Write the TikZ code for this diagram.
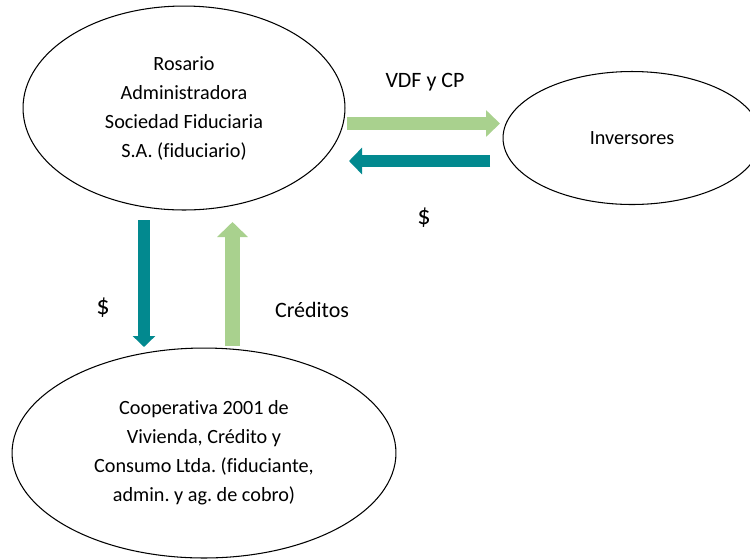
\documentclass[tikz,border=0pt]{standalone}
\usepackage{fontspec}
\setmainfont{Carlito}[Ligatures=NoCommon]
\usepackage{tikz}
\usetikzlibrary{shapes.geometric}
\usetikzlibrary{arrows.meta}
\usepackage{xcolor}
\frenchspacing
\definecolor{lightgreen}{HTML}{A9D18E}
\definecolor{tealblue}{HTML}{02898F}
\tikzstyle{entity}=[draw, semithick, ellipse, align=center, inner sep=0pt, font=\fontsize{11.5}{16.5}\selectfont]
\tikzstyle{flowlabel}=[font=\fontsize{12.5}{15}\selectfont]
\tikzstyle{cashlabel}=[font=\fontsize{15}{15}\selectfont]
\tikzstyle{greenflow}=[draw=lightgreen, line width=0.27cm]
\tikzstyle{tealflow}=[draw=tealblue, line width=0.24cm]

\begin{document}
\begin{tikzpicture}[x=0.02cm, y=-0.02cm]
	\useasboundingbox (0,0) rectangle (750,559);
	\begin{scope}
	\clip (0,0) rectangle (750,559);
%
	\node[entity, minimum width=6.44cm, minimum height=4.08cm] (fiduciario) at (184,108)
		{Rosario\\Administradora\\Sociedad Fiduciaria\\S.A. (fiduciario)};
	\node[entity, minimum width=5.16cm, minimum height=2.66cm] (inversores) at (632,138) {Inversores};
	\node[entity, minimum width=7.68cm, minimum height=4.2cm] (fiduciante) at (204,453)
		{Cooperativa 2001 de\\Vivienda, Cr\'edito y\\Consumo Ltda. (fiduciante,\\admin. y ag. de cobro)};
	\end{scope}
%
	\coordinate (vdfA) at (347,123.5);
	\coordinate (vdfB) at (500,123.5);
	\coordinate (pagoA) at (490,161);
	\coordinate (pagoB) at (349,161);
	\coordinate (fondoA) at (144,220);
	\coordinate (fondoB) at (144,347);
	\coordinate (credA) at (232.5,346);
	\coordinate (credB) at (232.5,222);
%
	\draw[greenflow, -{Triangle[length=0.28cm, width=0.52cm, fill=lightgreen]}] (vdfA) -- (vdfB);
	\draw[tealflow, -{Triangle[length=0.26cm, width=0.52cm, fill=tealblue]}] (pagoA) -- (pagoB);
	\draw[tealflow, -{Triangle[length=0.22cm, width=0.44cm, fill=tealblue]}] (fondoA) -- (fondoB);
	\draw[greenflow, line width=0.3cm, -{Triangle[length=0.3cm, width=0.6cm, fill=lightgreen]}] (credA) -- (credB);
%
	\node[flowlabel] (lvdf) at (425,82) {VDF y CP};
	\node[cashlabel] (lpago) at (424,218) {\$};
	\node[cashlabel] (lfondo) at (103,308) {\$};
	\node[flowlabel] (lcred) at (312,310) {Cr\'editos};
\end{tikzpicture}
\end{document}
